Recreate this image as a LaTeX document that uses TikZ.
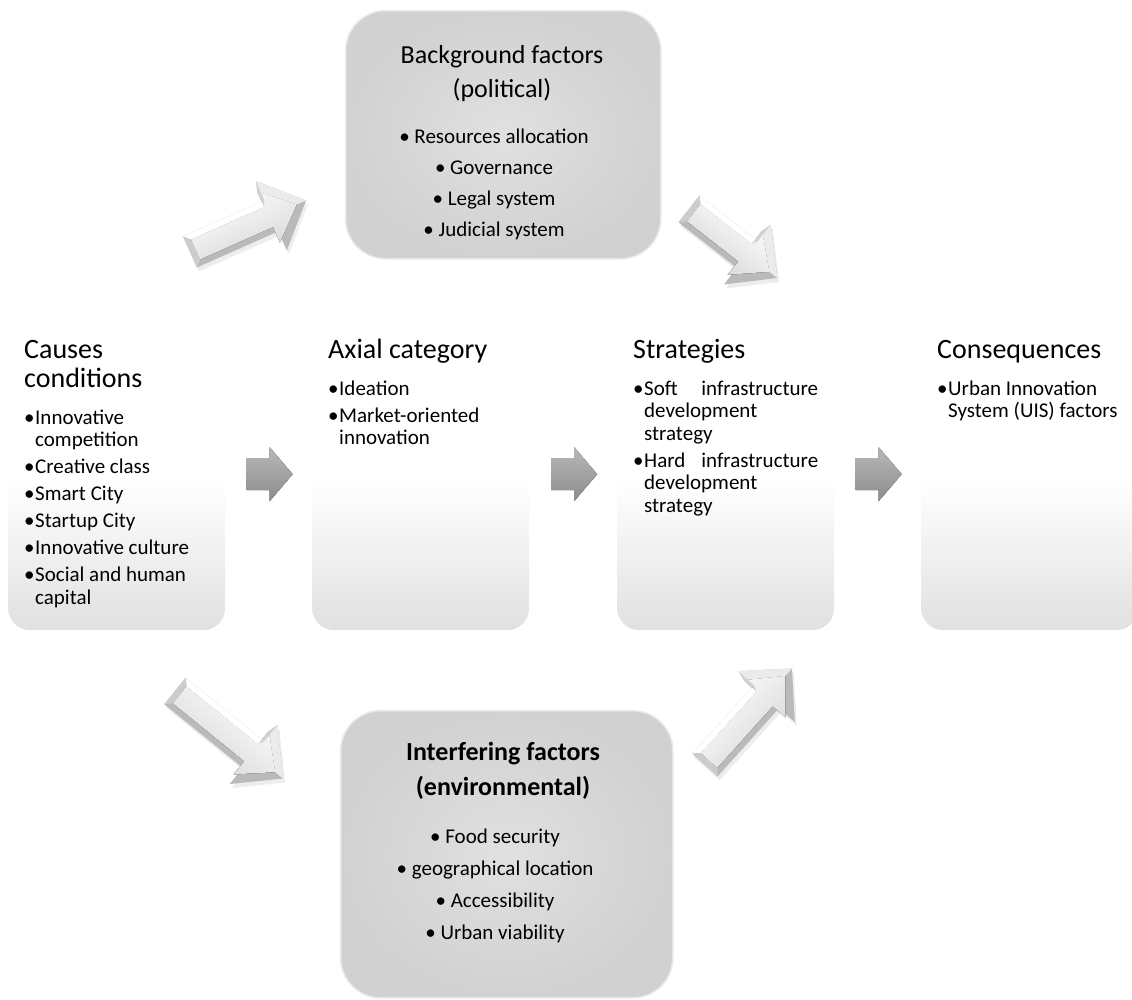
\documentclass[tikz,border=0pt]{standalone}
\usepackage{fontspec}
\setmainfont{Carlito}
\usetikzlibrary{calc}

\pgfdeclareverticalshading{boxfade}{100bp}{color(0bp)=(black!12); color(25bp)=(black!12); color(50bp)=(white); color(100bp)=(white)}

% bullet line with hanging indent
\newcommand{\bul}[1]{\par\hangindent=11pt\hangafter=1\noindent\makebox[11pt][l]{\textbullet}#1\par\vspace{4.5pt}}

% bevelled block arrow: tail point, angle, length
\newcommand{\bevelarrow}[3]{%
  \begin{scope}[shift={#1}]
    \fill[black!7, xshift=2pt, yshift=-4pt, rotate=#2] (0,-17) -- ({#3-38},-17) -- ({#3-38},-38) -- (#3,0) -- ({#3-38},38) -- ({#3-38},17) -- (0,17) -- cycle;
    \begin{scope}[rotate=#2]
      \fill[black!27] (0,-17) -- ({#3-38},-17) -- ({#3-38},-38) -- (#3,0) -- ({#3-38},38) -- ({#3-38},17) -- (0,17) -- cycle;
      \fill[top color=white, bottom color=black!16, shading angle=#2] (6,-11) -- ({#3-41},-11) -- ({#3-41},-28) -- ({#3-10},0) -- ({#3-41},28) -- ({#3-41},11) -- (6,11) -- cycle;
      \fill[white] (0,-17) -- ({#3-38},-17) -- ({#3-41},-11) -- (6,-11) -- cycle;
      \fill[black!8] ({#3-38},-38) -- (#3,0) -- ({#3-10},0) -- ({#3-41},-28) -- cycle;
      \fill[black!18] ({#3-38},-17) -- ({#3-38},-38) -- ({#3-41},-28) -- ({#3-41},-11) -- cycle;
      \fill[black!20] (0,-17) -- (6,-11) -- (6,11) -- (0,17) -- cycle;
    \end{scope}
  \end{scope}}

\tikzset{
  mainbox/.style={rectangle, rounded corners=22, minimum width=217, minimum height=300, shading=boxfade, inner sep=0, anchor=north west},
  sidebox/.style={rectangle, rounded corners=40, inner color=black!12, outer color=black!18, draw=black!9, line width=1.5, anchor=north west},
  boxtext/.style={anchor=north west, inner sep=0, align=flush left, font=\fontsize{21}{22.5}\selectfont},
  sidetitle/.style={anchor=north, inner sep=0, align=center, font=\fontsize{26}{34}\selectfont},
  sidelist/.style={anchor=north, inner sep=0, align=center, font=\fontsize{21}{31}\selectfont},
  chev/.style={top color=black!28, bottom color=black!45},
}

\begin{document}
\begin{tikzpicture}[x=1pt, y=-1pt]
  \useasboundingbox (0,0) rectangle (1132,999);

  % main row
  \node[mainbox] (cause) at (8,330) {};
  \node[mainbox] (axial) at (312,330) {};
  \node[mainbox] (strategy) at (617,330) {};
  \node[mainbox] (result) at (921,330) {};

  \node[boxtext, text width=195] (causetext) at (24,336) {%
    {\fontsize{28}{29}\selectfont\rule{0pt}{22pt}Causes\\conditions\par}
    \vspace{14.5pt}
    \bul{Innovative\break competition}
    \bul{Creative class}
    \bul{Smart City}
    \bul{Startup City}
    \bul{Innovative culture}
    \bul{Social and human\break capital}};
  \node[boxtext, text width=195] (axialtext) at (328,336) {%
    {\fontsize{28}{29}\selectfont\rule{0pt}{22pt}Axial category\par}
    \vspace{14.5pt}
    \bul{Ideation}
    \bul{Market-oriented\break innovation}};
  \node[boxtext, text width=185] (strategytext) at (633,336) {%
    {\fontsize{28}{29}\selectfont\rule{0pt}{22pt}Strategies\par}
    \vspace{14.5pt}
    \bul{Soft\hfill infrastructure\break development\break strategy}
    \bul{Hard\hfill infrastructure\break development\break strategy}};
  \node[boxtext, text width=190] (resulttext) at (937,336) {%
    {\fontsize{28}{29}\selectfont\rule{0pt}{22pt}Consequences\par}
    \vspace{14.5pt}
    \bul{Urban Innovation\break System (UIS) factors}};

  % chevrons between the boxes
  \foreach \a/\b in {cause/axial, axial/strategy, strategy/result} {
    \coordinate (m) at ($(\a.east)!0.5!(\b.west)+(1,-6)$);
    \fill[chev, shift={(m)}] (-23,-16) -- (0,-16) -- (0,-27) -- (23,0) -- (0,27) -- (0,16) -- (-23,16) -- cycle;
  }

  % political box
  \node[sidebox, minimum width=315, minimum height=248] (backg) at (345,10) {};
  \node[sidetitle] (backgtitle) at (502,42) {\rule{0pt}{21pt}Background factors\\(political)};
  \node[sidelist] (backglist) at (494,123) {\rule{0pt}{20pt}\textbullet\ Resources allocation\\\textbullet\ Governance\\\textbullet\ Legal system\\\textbullet\ Judicial system};

  % environmental box
  \node[sidebox, minimum width=332, minimum height=287] (interf) at (340,710) {};
  \node[sidetitle, font=\fontsize{26}{35}\selectfont\bfseries] (interftitle) at (503,739) {\rule{0pt}{21pt}Interfering factors\\(environmental)};
  \node[sidelist, font=\fontsize{21}{32}\selectfont] (interflist) at (495,823) {\rule{0pt}{20pt}\textbullet\ Food security\\\textbullet\ geographical location\\\textbullet\ Accessibility\\\textbullet\ Urban viability};

  % bevelled arrows
  \bevelarrow{(190,252)}{24}{127}
  \bevelarrow{(689,209)}{-38}{112}
  \bevelarrow{(175,691)}{-39}{139}
  \bevelarrow{(705,765)}{48}{130}
\end{tikzpicture}
\end{document}
